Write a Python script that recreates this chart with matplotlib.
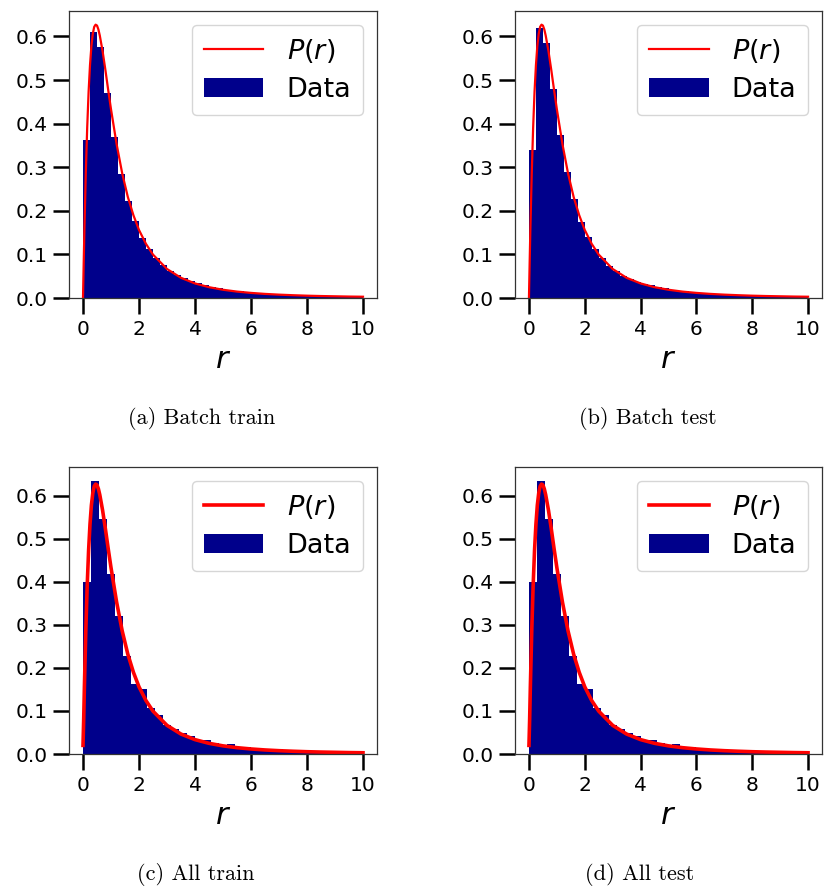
import numpy as np
import matplotlib
matplotlib.use("Agg")
import matplotlib.pyplot as plt

# ---------------- data ----------------
panel_captions = ["(a) Batch train", "(b) Batch test", "(c) All train", "(d) All test"]
legend_labels = ["$P(r)$", "Data"]
x_label = "$r$"
x_ticks = [0, 2, 4, 6, 8, 10]
y_ticks = [0.0, 0.1, 0.2, 0.3, 0.4, 0.5, 0.6]

# histogram range and bin counts
hist_range = (0.0, 10.0)
batch_bins = 40
all_bins = 35

batch_train_heights = [0.363, 0.611, 0.575, 0.471, 0.370, 0.285, 0.222, 0.176, 0.137, 0.112,
                       0.091, 0.076, 0.063, 0.052, 0.045, 0.038, 0.034, 0.029, 0.025, 0.022,
                       0.019, 0.017, 0.015, 0.014, 0.012, 0.011, 0.010, 0.009, 0.008, 0.007,
                       0.0065, 0.006, 0.0055, 0.005, 0.0045, 0.0042, 0.0039, 0.0036, 0.0033, 0.003]
batch_test_heights = [0.340, 0.620, 0.586, 0.479, 0.374, 0.290, 0.226, 0.175, 0.139, 0.112,
                      0.091, 0.074, 0.063, 0.051, 0.043, 0.036, 0.033, 0.029, 0.025, 0.022,
                      0.019, 0.017, 0.015, 0.013, 0.012, 0.011, 0.010, 0.009, 0.008, 0.007,
                      0.0065, 0.006, 0.0055, 0.005, 0.0045, 0.0042, 0.0039, 0.0036, 0.0033, 0.003]
all_train_heights = [0.399, 0.635, 0.545, 0.418, 0.321, 0.228, 0.162, 0.150, 0.107, 0.090,
                     0.067, 0.057, 0.049, 0.041, 0.032, 0.032, 0.025, 0.019, 0.023, 0.016,
                     0.016, 0.012, 0.011, 0.009, 0.012, 0.008, 0.007, 0.006, 0.006, 0.005,
                     0.007, 0.004, 0.004, 0.003, 0.003]
all_test_heights = [0.399, 0.635, 0.545, 0.418, 0.321, 0.228, 0.162, 0.150, 0.107, 0.090,
                    0.067, 0.057, 0.049, 0.041, 0.032, 0.032, 0.025, 0.019, 0.023, 0.016,
                    0.016, 0.012, 0.011, 0.009, 0.012, 0.008, 0.007, 0.006, 0.006, 0.005,
                    0.007, 0.004, 0.004, 0.003, 0.003]

# theoretical curve P(r)
curve_r = [0.0, 0.025, 0.05, 0.1, 0.15, 0.2, 0.25, 0.3, 0.35, 0.4, 0.45, 0.5, 0.55, 0.6,
           0.7, 0.8, 0.9, 1.0, 1.2, 1.4, 1.6, 1.8, 2.0, 2.25, 2.5, 3.0, 3.5, 4.0, 4.5,
           5.0, 5.5, 6.0, 6.5, 7.0, 7.5, 8.0, 8.5, 9.0, 9.5, 10.0]
curve_p = [0.0, 0.081, 0.156, 0.286, 0.391, 0.473, 0.534, 0.578, 0.606, 0.622, 0.627, 0.625,
           0.616, 0.602, 0.566, 0.523, 0.477, 0.433, 0.353, 0.286, 0.232, 0.190, 0.156,
           0.124, 0.0995, 0.0665, 0.0463, 0.0334, 0.0248, 0.0189, 0.0147, 0.0117, 0.0094,
           0.0077, 0.0064, 0.0053, 0.0045, 0.0039, 0.0033, 0.0029]
# the lower panels' curve starts slightly above zero
curve_start_all = 0.02

# ---------------- figure ----------------
W, H, DPI = 827, 888, 100
fig = plt.figure(figsize=(W / DPI, H / DPI), dpi=DPI)

def frac_box(l, t, r, b):
    return [l / W, 1 - b / H, (r - l) / W, (b - t) / H]

boxes = [frac_box(69, 11, 377, 298), frac_box(515, 11, 822, 298),
         frac_box(69, 467, 377, 754), frac_box(515, 467, 822, 754)]
caption_pos = [(202, 418), (648, 418), (196, 874), (640, 874)]

panels = [
    (batch_train_heights, batch_bins, False),
    (batch_test_heights, batch_bins, False),
    (all_train_heights, all_bins, True),
    (all_test_heights, all_bins, True),
]

for i, (heights, nb, is_all) in enumerate(panels):
    ax = fig.add_axes(boxes[i])
    edges = np.linspace(hist_range[0], hist_range[1], nb + 1)
    ax.bar(edges[:-1], heights, width=np.diff(edges), align="edge",
           color="darkblue", linewidth=0, label=legend_labels[1], zorder=1)
    cp = list(curve_p)
    if is_all:
        cp[0] = curve_start_all
    ax.plot(curve_r, cp, color="red", lw=2.6 if is_all else 1.6,
            label=legend_labels[0], zorder=2)
    ax.set_xticks(x_ticks)
    ax.set_yticks(y_ticks)
    ax.set_yticklabels([f"{v:.1f}" for v in y_ticks])
    ax.tick_params(axis="both", which="major", labelsize=14.5, length=11.5,
                   width=1.8, color="black", pad=4)
    for sp in ax.spines.values():
        sp.set_linewidth(0.9)
        sp.set_color("0.2")
    ax.set_xlabel(x_label, fontsize=22, labelpad=5)
    leg = ax.legend(loc="upper right", fontsize=19.5, handlelength=2.2,
                    handleheight=0.75, handletextpad=0.85, borderpad=0.45,
                    labelspacing=0.45, fancybox=True, framealpha=0.8,
                    edgecolor="0.8")
    cx, cy = caption_pos[i]
    fig.text(cx / W, 1 - cy / H, panel_captions[i], ha="center", va="center",
             fontsize=16, family=["cmr10", "DejaVu Serif"])

fig.savefig("out.png", dpi=DPI)
